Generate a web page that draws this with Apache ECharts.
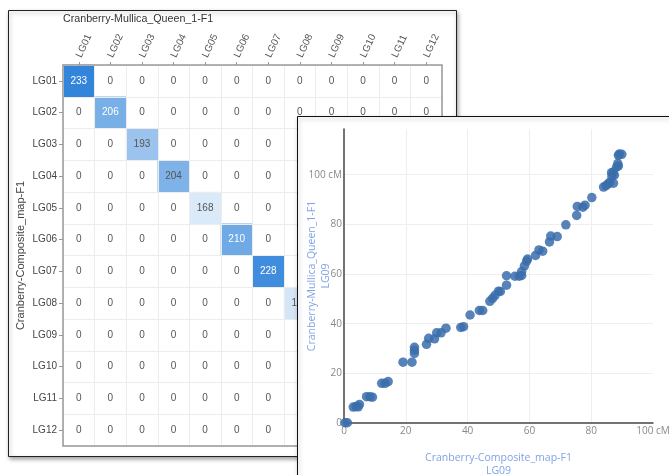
<!DOCTYPE html>
<html>
<head>
<meta charset="utf-8">
<script src="https://cdn.jsdelivr.net/npm/echarts@6/dist/echarts.min.js"></script>
<style>
html,body{margin:0;padding:0;background:#fff;}
#c{width:669px;height:475px;}
</style>
</head>
<body>
<div id="c"></div>
<script>
// ---- Data ----
var groups = ['LG01','LG02','LG03','LG04','LG05','LG06','LG07','LG08','LG09','LG10','LG11','LG12'];
// diagonal counts (LG09-LG12 hidden behind the scatter panel, estimated)
var diagCounts = [233, 206, 193, 204, 168, 210, 228, 171, 180, 175, 170, 165];
var heatTitle = 'Cranberry-Mullica_Queen_1-F1';
var heatYName = 'Cranberry-Composite_map-F1';
var scatterXName = 'Cranberry-Composite_map-F1\nLG09';
var scatterYName = 'Cranberry-Mullica_Queen_1-F1\nLG09';
var xTicks = [0, 20, 40, 60, 80, 100];
var yTicks = [0, 20, 40, 60, 80, 100];
// LG09 positions: [composite cM, Mullica Queen cM]
var lg09Points = [
 [0.3,0.1],[1.1,0.1],
 [3.0,6.4],[3.9,6.6],[5.0,7.5],[4.6,6.5],
 [7.3,10.6],[8.4,10.6],[9.2,10.4],
 [12.2,16.0],[13.3,16.0],[14.3,16.7],
 [19.1,24.5],[22.0,24.5],
 [22.8,30.5],[22.8,29.3],[22.8,28.0],
 [26.7,31.7],[27.4,34.1],[29.3,33.9],[30.0,36.3],[31.4,36.3],[33.0,38.2],
 [37.8,38.5],[38.7,38.8],
 [40.8,43.5],
 [43.8,45.3],[44.9,45.3],
 [47.2,49.0],[48.1,50.2],[48.9,51.4],[50.0,53.1],[50.6,53.0],
 [52.6,55.5],[52.6,59.3],
 [55.3,59.1],[56.7,59.1],[57.5,59.4],[57.5,61.0],[58.4,63.3],[59.1,65.2],[59.4,66.0],
 [62.0,67.5],[63.1,69.7],[64.3,69.2],
 [66.5,72.9],[66.9,75.3],[69.0,75.1],
 [71.8,79.8],
 [75.3,83.6],[75.5,87.2],[77.3,86.9],[78.0,87.7],
 [80.2,90.8],
 [84.0,95.0],[84.8,95.6],[85.5,96.3],[86.0,97.0],[87.2,96.6],
 [86.7,99.4],[87.5,99.8],[86.6,100.8],[87.2,101.1],
 [88.2,103.1],[88.8,103.5],[88.6,104.5],
 [89.1,108.3],[89.9,108.2],[88.8,107.8]
];

// build heatmap table
var heatData = [];
for (var r = 0; r < groups.length; r++) {
  for (var c = 0; c < groups.length; c++) {
    heatData.push([c, r, r === c ? diagCounts[r] : 0]);
  }
}

var chart = echarts.init(document.getElementById('c'), null, {renderer: 'canvas'});
var heatFont = 'Liberation Sans, Arial, sans-serif';
var plotFont = 'Open Sans, sans-serif';

var option = {
  animation: false,
  backgroundColor: '#fff',
  title: {
    text: heatTitle,
    left: 63, top: 14, padding: 0,
    textStyle: {fontSize: 10.7, fontWeight: 'normal', color: '#333', fontFamily: heatFont}
  },
  graphic: {
    elements: [
      {type: 'rect', z: 1, shape: {x: 8.5, y: 10.5, width: 448, height: 446},
       style: {fill: '#fff', stroke: '#222', lineWidth: 1,
               shadowBlur: 4, shadowOffsetX: 1, shadowOffsetY: 2, shadowColor: 'rgba(0,0,0,0.35)'}},
      {type: 'rect', z: 20, shape: {x: 297.5, y: 116.5, width: 420, height: 420},
       style: {fill: '#fff', stroke: '#111', lineWidth: 1,
               shadowBlur: 4, shadowOffsetX: 1, shadowOffsetY: 2, shadowColor: 'rgba(0,0,0,0.3)'}}
    ]
  },
  visualMap: {
    show: false, type: 'continuous', seriesIndex: 0, dimension: 2,
    min: 160, max: 235, range: [162, 235],
    inRange: {color: ['#f0f6fb', '#2e82db']},
    outOfRange: {color: 'rgba(255,255,255,0)'}
  },
  grid: [
    {left: 63, top: 65, width: 379, height: 381, show: true, z: 5, outerBoundsMode: 'none',
     backgroundColor: 'rgba(0,0,0,0)', borderColor: '#999', borderWidth: 1.5},
    {left: 344, top: 129, width: 309, height: 294, z: 21, outerBoundsMode: 'none'}
  ],
  xAxis: [
    {type: 'category', gridIndex: 0, data: groups, position: 'top', z: 4,
     axisLine: {show: false},
     axisTick: {show: true, alignWithLabel: true, length: 3, lineStyle: {color: '#999'}},
     axisLabel: {rotate: -65, fontSize: 10, color: '#555', margin: 8, fontFamily: heatFont},
     splitLine: {show: true, lineStyle: {color: '#ececec'}}},
    {type: 'value', gridIndex: 1, min: 0, max: 100, interval: 20, z: 22,
     axisLine: {show: true, onZero: false, lineStyle: {color: '#444', width: 1.5}},
     axisTick: {show: false},
     axisLabel: {fontSize: 10, color: '#888', margin: 3, fontFamily: plotFont,
       formatter: function (v) { return xTicks.indexOf(v) < 0 ? '' : (v === 100 ? '100 cM' : String(v)); }},
     splitLine: {show: true, showMaxLine: false, showMinLine: false, lineStyle: {color: '#eeeeee'}},
     name: scatterXName, nameLocation: 'middle', nameGap: 28, nameMoveOverlap: false,
     nameTextStyle: {fontSize: 10.5, color: '#7fa3e6', fontFamily: plotFont, lineHeight: 13.5}}
  ],
  yAxis: [
    {type: 'category', gridIndex: 0, data: groups, inverse: true, z: 4,
     axisLine: {show: false},
     axisTick: {show: true, alignWithLabel: true, length: 4, lineStyle: {color: '#999'}},
     axisLabel: {fontSize: 10, color: '#444', margin: 6, fontFamily: heatFont},
     splitLine: {show: true, lineStyle: {color: '#ececec'}},
     name: heatYName, nameLocation: 'middle', nameGap: 37, nameMoveOverlap: false,
     nameTextStyle: {fontSize: 11, color: '#444', fontFamily: heatFont}},
    {type: 'value', gridIndex: 1, min: 0, max: 118.4, interval: 20, z: 22,
     axisLine: {show: true, onZero: false, lineStyle: {color: '#444', width: 1.5}},
     axisTick: {show: false},
     axisLabel: {fontSize: 10, color: '#888', margin: 2, fontFamily: plotFont, showMaxLabel: false,
       formatter: function (v) { return yTicks.indexOf(v) < 0 ? '' : (v === 100 ? '100 cM' : String(v)); }},
     splitLine: {show: true, showMaxLine: false, showMinLine: false, lineStyle: {color: '#eeeeee'}},
     name: scatterYName, nameLocation: 'middle', nameGap: 11, nameMoveOverlap: false,
     nameTextStyle: {fontSize: 10.5, color: '#7fa3e6', fontFamily: plotFont, lineHeight: 14}}
  ],
  series: [
    {type: 'heatmap', xAxisIndex: 0, yAxisIndex: 0, z: 3, data: heatData,
     label: {show: true, fontSize: 10, fontFamily: heatFont,
       formatter: function (p) {
         var v = p.value[2];
         return v >= 205 ? '{w|' + v + '}' : '{d|' + v + '}';
       },
       rich: {w: {color: '#fff', fontSize: 10, fontFamily: heatFont},
              d: {color: '#555', fontSize: 10, fontFamily: heatFont}}},
     emphasis: {disabled: true}},
    {type: 'scatter', xAxisIndex: 1, yAxisIndex: 1, z: 23, data: lg09Points,
     symbolSize: 9.5, clip: false,
     itemStyle: {color: '#3a6dab', opacity: 0.85}}
  ]
};
chart.setOption(option);
</script>
</body>
</html>
